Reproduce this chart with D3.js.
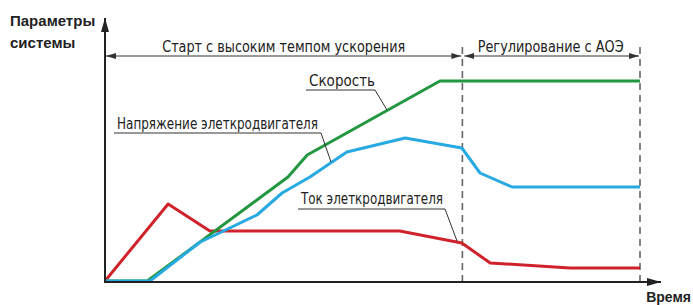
<!DOCTYPE html>
<html>
<head>
<meta charset="utf-8">
<script src="https://cdn.jsdelivr.net/npm/d3@7"></script>
<style>
  body { margin: 0; background: #fff; }
  svg { display: block; }
  .narrow { font-family: "Liberation Sans Narrow", "DejaVu Sans Condensed", sans-serif; fill: #222; }
  .bold { font-family: "Liberation Sans", Arial, sans-serif; font-weight: bold; fill: #222; }
</style>
</head>
<body>
<div id="chart"></div>
<script>
// time on 0..100, parameter value on 0..100
const speedT = [0, 7.9, 34.2, 37.8, 62.6, 100]
const speedV = [0, 0, 52, 63, 100, 100]

const voltageT = [0, 8.4, 17.8, 20.6, 28.4, 33.1, 38.3, 45.2, 56.1, 66.7, 70.1, 76.1, 100]
const voltageV = [0, 0, 19.5, 23, 33, 44, 52, 64.5, 71.5, 66.5, 54, 47, 47]

const currentT = [0, 11.8, 19.6, 55.1, 66.7, 72, 86.9, 100]
const currentV = [0, 38.5, 25, 25, 19, 9, 6.5, 6.5]

const phaseBounds = [0, 66.8, 100]
const phaseLabels = ['Старт с высоким темпом ускорения', 'Регулирование с АОЭ']

const width = 693
const height = 305

const x = d3.scaleLinear().domain([0, 100]).range([105, 640])
const y = d3.scaleLinear().domain([0, 100]).range([281, 81])

const svg = d3.select('#chart').append('svg')
  .attr('width', width)
  .attr('height', height)

const defs = svg.append('defs')
const makeMarker = (id, w, h, color) => {
  defs.append('marker')
    .attr('id', id)
    .attr('viewBox', `0 0 ${w} ${h}`)
    .attr('refX', w)
    .attr('refY', h / 2)
    .attr('markerWidth', w)
    .attr('markerHeight', h)
    .attr('markerUnits', 'userSpaceOnUse')
    .attr('orient', 'auto-start-reverse')
    .append('path')
    .attr('d', `M0,0L${w},${h / 2}L0,${h}Z`)
    .attr('fill', color)
}
makeMarker('axisArrow', 14, 8, '#222')
makeMarker('smallArrow', 10, 6, '#333')

// dashed phase borders
svg.selectAll('line.phase')
  .data(phaseBounds.slice(1))
  .enter()
  .append('line')
  .attr('class', 'phase')
  .attr('x1', d => x(d))
  .attr('x2', d => x(d))
  .attr('y1', 47)
  .attr('y2', 287)
  .attr('stroke', '#666')
  .attr('stroke-width', 1.6)
  .attr('stroke-dasharray', '7,5')

// phase arrows and labels
const phaseWidths = [243, 146]
phaseLabels.forEach((label, i) => {
  const a = x(phaseBounds[i]) + (i === 0 ? 1 : 2)
  const b = x(phaseBounds[i + 1]) - 1
  svg.append('line')
    .attr('x1', a).attr('x2', b)
    .attr('y1', 56).attr('y2', 56)
    .attr('stroke', '#333')
    .attr('stroke-width', 1)
    .attr('marker-start', 'url(#smallArrow)')
    .attr('marker-end', 'url(#smallArrow)')
  svg.append('text')
    .attr('class', 'narrow')
    .attr('x', (a + b) / 2 - phaseWidths[i] / 2 + (i === 0 ? 0 : -1))
    .attr('y', 52)
    .attr('textLength', phaseWidths[i])
    .attr('lengthAdjust', 'spacingAndGlyphs')
    .style('font-size', '15px')
    .text(label)
})

// series
const line = d3.line().x(d => x(d[0])).y(d => y(d[1]))
const series = [
  { t: currentT, v: currentV, color: '#d0222b' },
  { t: speedT, v: speedV, color: '#22973f' },
  { t: voltageT, v: voltageV, color: '#27a9e1' }
]
series.forEach(s => {
  svg.append('path')
    .datum(s.t.map((t, i) => [t, s.v[i]]))
    .attr('d', line)
    .attr('fill', 'none')
    .attr('stroke', s.color)
    .attr('stroke-width', 3)
    .attr('stroke-linejoin', 'round')
})

// axes
svg.append('line')
  .attr('x1', 105).attr('x2', 105)
  .attr('y1', 283).attr('y2', 18)
  .attr('stroke', '#222').attr('stroke-width', 2)
  .attr('marker-end', 'url(#axisArrow)')
svg.append('line')
  .attr('x1', 104).attr('x2', 661)
  .attr('y1', 282).attr('y2', 282)
  .attr('stroke', '#222').attr('stroke-width', 2)
  .attr('marker-end', 'url(#axisArrow)')

// callouts: text, underline start/end, leader target on the curve
const callouts = [
  { text: 'Скорость', tx: 309, ty: 86, w: 66, u0: 306, u1: 375, uy: 90, px: 387, py: 110 },
  { text: 'Напряжение элеткродвигателя', tx: 117, ty: 129, w: 201, u0: 114, u1: 321, uy: 133, px: 331, py: 162 },
  { text: 'Ток элеткродвигателя', tx: 301, ty: 204, w: 142, u0: 298, u1: 445, uy: 209, px: 457, py: 241 }
]
callouts.forEach(c => {
  svg.append('text')
    .attr('class', 'narrow')
    .attr('x', c.tx)
    .attr('y', c.ty)
    .attr('textLength', c.w)
    .attr('lengthAdjust', 'spacingAndGlyphs')
    .style('font-size', '15px')
    .text(c.text)
  svg.append('path')
    .attr('d', `M${c.u0},${c.uy}L${c.u1},${c.uy}L${c.px},${c.py}`)
    .attr('fill', 'none')
    .attr('stroke', '#333')
    .attr('stroke-width', 1)
})

// axis titles
svg.append('text').attr('class', 'bold')
  .attr('x', 10).attr('y', 26)
  .style('font-size', '15px')
  .text('Параметры')
svg.append('text').attr('class', 'bold')
  .attr('x', 10).attr('y', 48)
  .style('font-size', '15px')
  .text('системы')
svg.append('text').attr('class', 'bold')
  .attr('x', 691).attr('y', 302)
  .attr('text-anchor', 'end')
  .style('font-size', '14px')
  .text('Время')
</script>
</body>
</html>
